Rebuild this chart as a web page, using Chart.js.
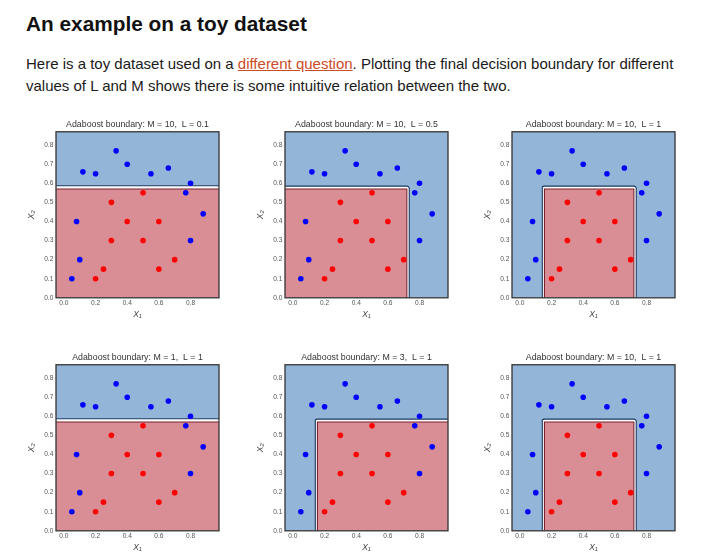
<!DOCTYPE html>
<html><head><meta charset="utf-8">
<script src="https://cdn.jsdelivr.net/npm/chart.js@4.4.1/dist/chart.umd.min.js"></script>
<style>
html,body{margin:0;padding:0;background:#fff;}
body{width:711px;height:557px;position:relative;overflow:hidden;font-family:"Liberation Sans",Arial,sans-serif;color:#111;}
h2{position:absolute;left:26px;top:14.1px;margin:0;font-size:20.8px;line-height:20.8px;font-weight:bold;white-space:nowrap;color:#111;}
p{position:absolute;left:26px;top:53px;margin:0;font-size:15px;line-height:22.4px;white-space:nowrap;color:#1a1a1a;}
a{color:#cc4b28;text-decoration:underline;}
.c{position:absolute;width:203px;height:202.3px;}
</style></head>
<body>
<h2>An example on a toy dataset</h2>
<p>Here is a toy dataset used on a <a href="#">different question</a>. Plotting the final decision boundary for different<br>values of L and M shows there is some intuitive relation between the two.</p>
<div class="c" id="c0"><canvas id="k0"></canvas></div>
<div class="c" id="c1"><canvas id="k1"></canvas></div>
<div class="c" id="c2"><canvas id="k2"></canvas></div>
<div class="c" id="c3"><canvas id="k3"></canvas></div>
<div class="c" id="c4"><canvas id="k4"></canvas></div>
<div class="c" id="c5"><canvas id="k5"></canvas></div>
<script>
// ---- data ----
const titles = [
  "Adaboost boundary: M = 10,  L = 0.1",
  "Adaboost boundary: M = 10,  L = 0.5",
  "Adaboost boundary: M = 10,  L = 1",
  "Adaboost boundary: M = 1,  L = 1",
  "Adaboost boundary: M = 3,  L = 1",
  "Adaboost boundary: M = 10,  L = 1"
];
const xTicks = [0.0, 0.2, 0.4, 0.6, 0.8];
const yTicks = [0.0, 0.1, 0.2, 0.3, 0.4, 0.5, 0.6, 0.7, 0.8];
const xRange = [-0.05, 0.98];
const yRange = [0.0, 0.87];
const blueX = [0.05, 0.10, 0.08, 0.12, 0.20, 0.33, 0.40, 0.55, 0.66, 0.80, 0.77, 0.88, 0.80];
const blueY = [0.10, 0.20, 0.40, 0.66, 0.65, 0.77, 0.70, 0.65, 0.68, 0.60, 0.55, 0.44, 0.30];
const redX  = [0.20, 0.25, 0.30, 0.30, 0.40, 0.50, 0.50, 0.60, 0.60, 0.70];
const redY  = [0.10, 0.15, 0.30, 0.50, 0.40, 0.55, 0.30, 0.40, 0.15, 0.20];

// decision regions (class "red") per panel, and the boundary contour around them
const redRegionX = [
  [-0.05, 0.98],
  [-0.05, 0.72, 0.72],
  [0.155, 0.155, 0.72, 0.72],
  [-0.05, 0.98],
  [0.155, 0.155, 0.98],
  [0.155, 0.155, 0.72, 0.72]
];
const redRegionY = [
  [0.57, 0.57],
  [0.57, 0.57, 0.0],
  [0.0, 0.57, 0.57, 0.0],
  [0.57, 0.57],
  [0.0, 0.57, 0.57],
  [0.0, 0.57, 0.57, 0.0]
];
const contourX = [
  [-0.05, 0.98],
  [-0.05, 0.722, 0.73, 0.735, 0.735],
  [0.14, 0.14, 0.143, 0.152, 0.722, 0.73, 0.735, 0.735],
  [-0.05, 0.98],
  [0.14, 0.14, 0.143, 0.152, 0.98],
  [0.14, 0.14, 0.143, 0.152, 0.722, 0.73, 0.735, 0.735]
];
const contourY = [
  [0.587, 0.587],
  [0.585, 0.585, 0.582, 0.575, 0.0],
  [0.0, 0.572, 0.581, 0.585, 0.585, 0.582, 0.575, 0.0],
  [0.587, 0.587],
  [0.0, 0.572, 0.581, 0.585, 0.585],
  [0.0, 0.572, 0.581, 0.585, 0.585, 0.582, 0.575, 0.0]
];

// ---- layout ----
const plotLefts = [56, 284.5, 512];
const plotTops = [130.7, 364.3];
const FONT = "'Liberation Sans', Arial, sans-serif";

const zip = (xs, ys) => xs.map((x, i) => ({x: x, y: ys[i]}));

const framePlugin = {
  id: 'frame',
  afterDatasetsDraw(chart) {
    const {ctx, chartArea: a} = chart;
    ctx.save();
    ctx.strokeStyle = '#333333';
    ctx.lineWidth = 1.3;
    ctx.strokeRect(a.left, a.top, a.right - a.left, a.bottom - a.top);
    ctx.restore();
  }
};

for (let i = 0; i < 6; i++) {
  const col = i % 3, row = Math.floor(i / 3);
  const box = document.getElementById('c' + i);
  box.style.left = (plotLefts[col] - 36) + 'px';
  box.style.top = (plotTops[row] - 14.2) + 'px';

  new Chart(document.getElementById('k' + i), {
    type: 'scatter',
    data: {
      datasets: [
        {type: 'scatter', data: zip(blueX, blueY), pointRadius: 2.8, pointBackgroundColor: '#0000ff', pointBorderWidth: 0, order: 0},
        {type: 'scatter', data: zip(redX, redY), pointRadius: 2.8, pointBackgroundColor: '#ff0000', pointBorderWidth: 0, order: 0},
        {type: 'line', data: zip(redRegionX[i], redRegionY[i]), pointRadius: 0, borderColor: '#7a2030', borderWidth: 1.1, backgroundColor: '#d98d94', fill: 'origin', tension: 0, order: 1},
        {type: 'line', data: zip(contourX[i], contourY[i]), pointRadius: 0, borderColor: '#1d3a60', borderWidth: 1.1, backgroundColor: '#ffffff', fill: 'origin', tension: 0, order: 2},
        {type: 'line', data: zip(xRange, [yRange[1], yRange[1]]), pointRadius: 0, borderWidth: 0, borderColor: 'rgba(0,0,0,0)', backgroundColor: '#92b5d8', fill: 'origin', tension: 0, order: 3}
      ]
    },
    options: {
      responsive: true,
      maintainAspectRatio: false,
      animation: false,
      events: [],
      layout: {padding: {top: 2, right: 3, left: 0, bottom: 0}},
      plugins: {
        legend: {display: false},
        tooltip: {enabled: false},
        title: {display: true, fullSize: false, text: titles[i], color: '#333', font: {family: FONT, size: 8.8, weight: 'normal'}, padding: {top: 0, bottom: 2.2}}
      },
      scales: {
        x: {
          type: 'linear', min: xRange[0], max: xRange[1],
          grid: {display: false, drawTicks: false},
          border: {display: false},
          afterBuildTicks: s => { s.ticks = xTicks.map(v => ({value: v})); },
          afterFit: s => { s.height = 21.5; },
          ticks: {font: {family: FONT, size: 6.6}, color: '#555', padding: 1.5, maxRotation: 0, callback: v => Number(v).toFixed(1)},
          title: {display: true, text: 'X₁', color: '#444', font: {family: FONT, size: 8.5, style: 'italic'}, padding: 0}
        },
        y: {
          type: 'linear', min: yRange[0], max: yRange[1],
          grid: {display: false, drawTicks: false},
          border: {display: false},
          afterBuildTicks: s => { s.ticks = yTicks.map(v => ({value: v})); },
          afterFit: s => { s.width = 36; },
          ticks: {font: {family: FONT, size: 6.6}, color: '#555', padding: 2.7, callback: v => Number(v).toFixed(1)},
          title: {display: true, text: 'X₂', color: '#444', font: {family: FONT, size: 8.5, style: 'italic'}, padding: {top: 7, bottom: 0}}
        }
      }
    },
    plugins: [framePlugin]
  });
}
</script>
</body></html>
